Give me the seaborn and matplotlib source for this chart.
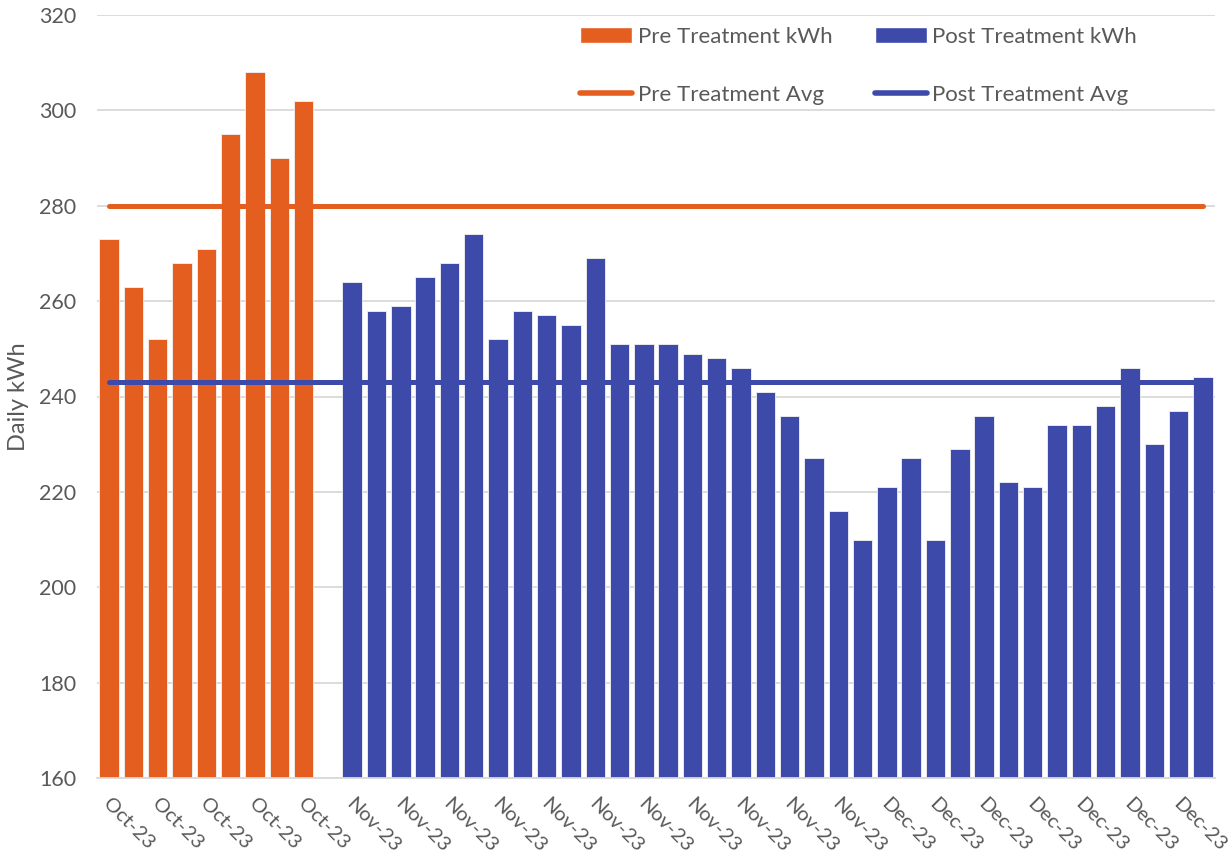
import numpy as np
import pandas as pd
import matplotlib
matplotlib.use("Agg")
import matplotlib.pyplot as plt
from matplotlib.patches import Patch
from matplotlib.lines import Line2D
from matplotlib.transforms import ScaledTranslation
import seaborn as sns

# daily kWh
pre_kwh = [273, 263, 252, 268, 271, 295, 308, 290, 302]
post_kwh = [264, 258, 259, 265, 268, 274, 252, 258, 257, 255,
            269, 251, 251, 251, 249, 248, 246, 241, 236, 227,
            216, 210, 221, 227, 210, 229, 236, 222, 221, 234,
            234, 238, 246, 230, 237, 244]
pre_avg = 280
post_avg = 243
gap_slots = 1  # empty category between the two periods

tick_labels = ['Oct-23', 'Oct-23', 'Oct-23', 'Oct-23', 'Oct-23',
               'Nov-23', 'Nov-23', 'Nov-23', 'Nov-23', 'Nov-23', 'Nov-23',
               'Nov-23', 'Nov-23', 'Nov-23', 'Nov-23', 'Nov-23',
               'Dec-23', 'Dec-23', 'Dec-23', 'Dec-23', 'Dec-23', 'Dec-23', 'Dec-23']

PRE_COLOR = '#E45E20'
POST_COLOR = '#3D4AAA'
TEXT_COLOR = '#595959'
GRID_COLOR = '#D9D9D9'

n_slots = len(pre_kwh) + gap_slots + len(post_kwh)
slots = list(range(len(pre_kwh))) + list(range(len(pre_kwh) + gap_slots, n_slots))
df = pd.DataFrame({
    'slot': slots,
    'kwh': pre_kwh + post_kwh,
    'period': ['Pre Treatment kWh'] * len(pre_kwh) + ['Post Treatment kWh'] * len(post_kwh),
})

sns.set_theme(style="white")
plt.rcParams['font.family'] = ['Lato', 'DejaVu Sans']

fig = plt.figure(figsize=(12.29, 8.60), dpi=100)
ax = fig.add_axes([97 / 1229, 1 - 778 / 860, (1215 - 97) / 1229, (778 - 15) / 860])

sns.barplot(data=df, x='slot', y='kwh', hue='period', order=list(range(n_slots)),
            palette={'Pre Treatment kWh': PRE_COLOR, 'Post Treatment kWh': POST_COLOR},
            dodge=False, width=0.8, saturation=1, edgecolor='#F2F2F2', linewidth=0.6,
            legend=False, ax=ax)

xs = np.arange(n_slots)
sns.lineplot(x=xs, y=[pre_avg] * n_slots, color=PRE_COLOR, linewidth=3.6,
             solid_capstyle='round', zorder=4, ax=ax)
sns.lineplot(x=xs, y=[post_avg] * n_slots, color=POST_COLOR, linewidth=3.6,
             solid_capstyle='round', zorder=4, ax=ax)

ax.set_ylim(160, 320)
ax.set_xlim(-0.5, n_slots - 0.5)
ax.set_yticks(range(160, 321, 20))
ax.yaxis.grid(True, color=GRID_COLOR, linewidth=1.3)
ax.set_axisbelow(True)
for s in ['top', 'right', 'left']:
    ax.spines[s].set_visible(False)
ax.spines['bottom'].set_color(GRID_COLOR)
ax.spines['bottom'].set_linewidth(1.3)

ax.set_xticks(range(0, n_slots, 2))
ax.set_xticklabels(tick_labels, rotation=-45, ha='left', va='top',
                   rotation_mode='anchor')
ax.set_xticks(np.arange(-0.5, n_slots, 1), minor=True)
ax.tick_params(axis='x', which='major', length=0, pad=12, labelsize=14.5, labelcolor=TEXT_COLOR)
ax.tick_params(axis='x', which='minor', length=5, width=1.3, color=GRID_COLOR, direction='out')
ax.tick_params(axis='y', length=0, pad=15, labelsize=15.5, labelcolor=TEXT_COLOR)
shift = ScaledTranslation(3 / 100, 0, fig.dpi_scale_trans)
for lbl in ax.get_xticklabels():
    lbl.set_transform(lbl.get_transform() + shift)

ax.set_xlabel('')
ax.set_ylabel('Daily kWh', fontsize=17, color=TEXT_COLOR, labelpad=7)

handles = [
    Patch(facecolor=PRE_COLOR, label='Pre Treatment kWh'),
    Line2D([0], [0], color=PRE_COLOR, linewidth=4, solid_capstyle='round', label='Pre Treatment Avg'),
    Patch(facecolor=POST_COLOR, label='Post Treatment kWh'),
    Line2D([0], [0], color=POST_COLOR, linewidth=4, solid_capstyle='round', label='Post Treatment Avg'),
]
leg = fig.legend(handles=handles, loc='upper left', bbox_to_anchor=(580 / 1229, 1 - 27 / 860),
                 ncol=2, frameon=False, fontsize=16, labelspacing=1.7, handlelength=2.35,
                 handleheight=0.75, handletextpad=0.25, columnspacing=1.9, borderpad=0,
                 borderaxespad=0)
for t in leg.get_texts():
    t.set_color(TEXT_COLOR)

fig.savefig('out.png', dpi=100)
